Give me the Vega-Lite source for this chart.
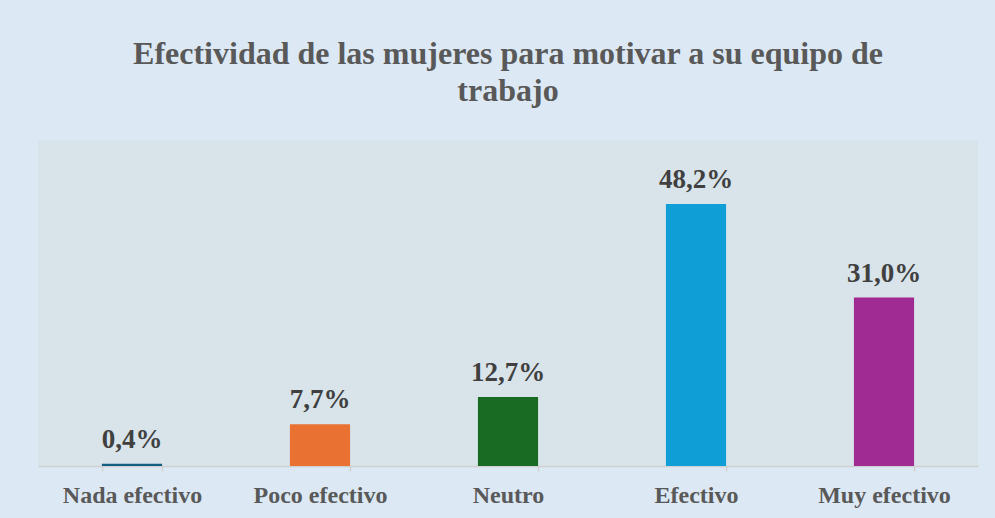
{
  "$schema": "https://vega.github.io/schema/vega-lite/v6.json",
  "autosize": "none",
  "width": 940,
  "height": 326,
  "padding": {"left": 38, "top": 140, "right": 17, "bottom": 52},
  "background": "#dce9f5",
  "title": {
    "text": ["Efectividad de las mujeres para motivar a su equipo de", "trabajo"],
    "font": "Liberation Serif",
    "fontSize": 32,
    "fontWeight": "bold",
    "color": "#595959",
    "lineHeight": 37,
    "anchor": "middle",
    "offset": 32
  },
  "config": {
    "view": {"fill": "#d8e4ea", "stroke": null}
  },
  "data": {
    "values": [
      {"categoria": "Nada efectivo", "valor": 0.4, "etiqueta": "0,4%"},
      {"categoria": "Poco efectivo", "valor": 7.7, "etiqueta": "7,7%"},
      {"categoria": "Neutro", "valor": 12.7, "etiqueta": "12,7%"},
      {"categoria": "Efectivo", "valor": 48.2, "etiqueta": "48,2%"},
      {"categoria": "Muy efectivo", "valor": 31.0, "etiqueta": "31,0%"}
    ]
  },
  "encoding": {
    "x": {
      "field": "categoria",
      "type": "nominal",
      "sort": null,
      "scale": {"paddingInner": 0.68, "paddingOuter": 0.34},
      "axis": {
        "title": null,
        "labelAngle": 0,
        "labelFont": "Liberation Serif",
        "labelFontSize": 24,
        "labelFontWeight": "bold",
        "labelColor": "#595959",
        "labelPadding": 12,
        "tickBand": "extent",
        "tickSize": 5,
        "tickColor": "#d0d0d0",
        "tickWidth": 1.5,
        "domainColor": "#d0d0d0",
        "domainWidth": 1.5,
        "grid": false
      }
    },
    "y": {
      "field": "valor",
      "type": "quantitative",
      "scale": {"domain": [0, 60]},
      "axis": null
    }
  },
  "layer": [
    {
      "mark": {"type": "bar"},
      "encoding": {
        "color": {
          "field": "categoria",
          "type": "nominal",
          "sort": null,
          "scale": {
            "domain": ["Nada efectivo", "Poco efectivo", "Neutro", "Efectivo", "Muy efectivo"],
            "range": ["#156082", "#e97132", "#196b24", "#0f9ed5", "#a02b93"]
          },
          "legend": null
        }
      }
    },
    {
      "mark": {
        "type": "text",
        "baseline": "alphabetic",
        "dy": -16,
        "font": "Liberation Serif",
        "fontSize": 27,
        "fontWeight": "bold",
        "color": "#404040"
      },
      "encoding": {
        "text": {"field": "etiqueta"}
      }
    }
  ]
}
